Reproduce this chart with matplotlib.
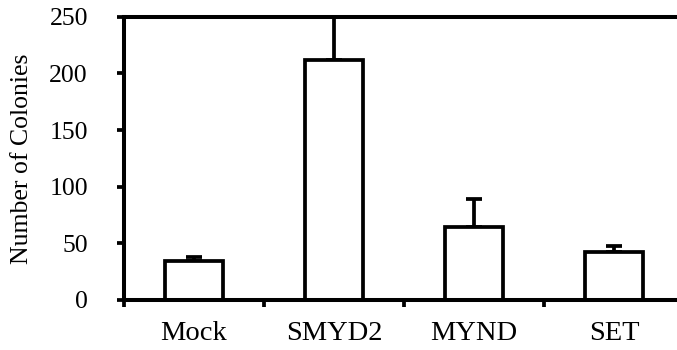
#!/usr/bin/env python3
#
# colony counts per construct, bar chart with upper error bars
#
import numpy as np
import matplotlib.pyplot as plt
from matplotlib.ticker import FixedLocator

# data -------------------------------------------------------------------------
groups = ['Mock', 'SMYD2', 'MYND', 'SET']
colonies = [34, 212, 64, 42]
err_up = [4, 45, 25, 6]
yticks = [0, 50, 100, 150, 200, 250]

# main -------------------------------------------------------------------------
def main():
    plt.rcParams['font.family'] = ['Liberation Serif', 'DejaVu Serif']
    plt.rcParams['font.size'] = 18
    fig = plt.figure(figsize=(6.77, 3.5), dpi=100)
    ax = fig.add_axes((124 / 677, 50 / 350, 1 - 124 / 677, 283.3 / 350))

    x = np.arange(len(groups))
    ax.bar(x, colonies, width=0.42, color='w', edgecolor='k', lw=2.7, zorder=2)
    ax.errorbar(x, colonies, yerr=[np.zeros(len(x)), err_up], fmt='none',
                ecolor='k', elinewidth=2.7, capsize=6, capthick=2.7, zorder=1)

    ax.set_xlim(-0.5, 3.45)
    ax.set_ylim(0, 250)
    ax.set_yticks(yticks)
    for t in ax.get_yticklabels():
        t.set_fontsize(18.5)

    # ticks between groups, labels centred under bars
    ax.xaxis.set_major_locator(FixedLocator(np.arange(len(groups) + 1) - 0.5))
    ax.xaxis.set_major_formatter(plt.NullFormatter())
    ax.xaxis.set_minor_locator(FixedLocator(x))
    ax.set_xticklabels(groups, minor=True, fontsize=20.5)
    ax.tick_params(axis='x', which='major', direction='out', length=5, width=2.7)
    ax.tick_params(axis='x', which='minor', length=0, pad=15)
    ax.tick_params(axis='y', direction='out', length=5, width=2.7, pad=21)

    for s in ('left', 'bottom', 'top'):
        ax.spines[s].set_linewidth(2.9)
    ax.spines['right'].set_visible(False)

    ax.set_ylabel('Number of Colonies', fontsize=18.5)
    ax.yaxis.set_label_coords(-91 / 553, 0.5)

    fig.savefig('out.png', dpi=100)

if __name__ == '__main__':
    main()
